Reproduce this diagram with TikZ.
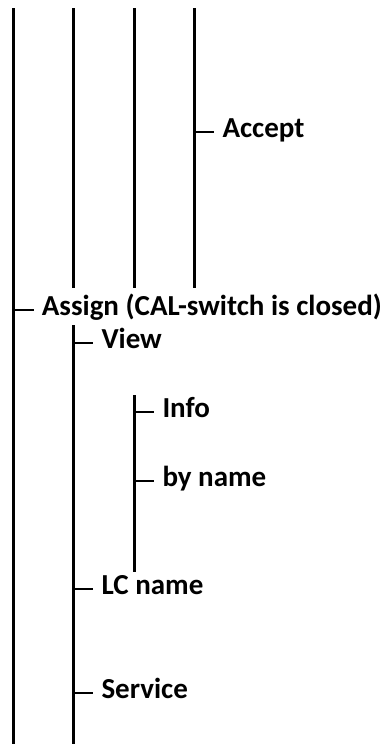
\documentclass[tikz,border=0pt]{standalone}
\usepackage{fontspec}
\setmainfont{Carlito}
\usetikzlibrary{positioning}
\tikzset{
  rail/.style={line width=2.6pt},
  item/.style={font=\fontsize{29}{34}\selectfont\bfseries,anchor=mid west,inner xsep=8pt,inner ysep=0pt,yshift=-3pt},
}
\begin{document}
\begin{tikzpicture}[x=1pt,y=-1pt]
  \useasboundingbox (0,0) rectangle (387,744);
  % vertical rails
  \foreach \n/\x/\ya/\yb in {a/13.7/8/744,b/73.3/8/288,c/134.3/8/288,d/194.3/8/288,e/73.3/325/744,f/134.3/395/572}{
    \coordinate (\n top) at (\x,\ya);
    \coordinate (\n bot) at (\x,\yb);
    \draw[rail] (\n top) -- (\n bot);
  }
  % branches
  \foreach \name/\x/\y/\txt in {accept/194.3/132/Accept,assign/13.7/310/{Assign (CAL-switch is closed)},view/73.3/343/View,info/134.3/412/Info,byname/134.3/481/by name,lcname/73.3/589/LC name,service/73.3/693/Service}{
    \coordinate (\name-r) at (\x,\y);
    \node[item] (\name) at (\x+20,\y) {\txt};
    \draw[rail] (\name-r) -- (\name-r -| \name.west);
  }
\end{tikzpicture}
\end{document}
